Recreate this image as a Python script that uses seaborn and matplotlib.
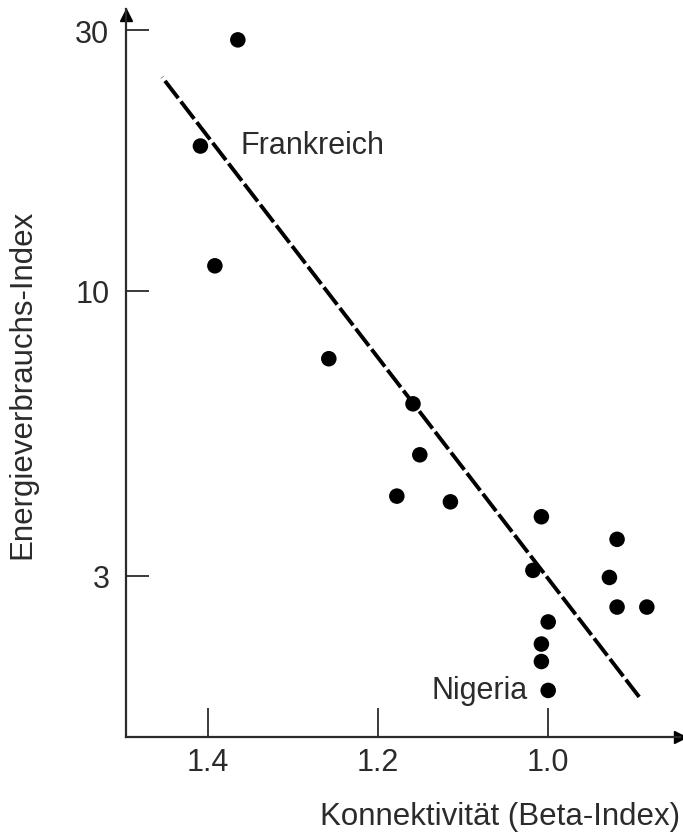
import matplotlib
matplotlib.use("Agg")
import matplotlib.pyplot as plt
import seaborn as sns
import pandas as pd

# Beta-Index (Konnektivität) vs. Energieverbrauchs-Index
beta = [1.365, 1.409, 1.392, 1.258, 1.159, 1.151, 1.178, 1.115, 1.008,
        1.018, 0.919, 0.928, 0.919, 0.884, 1.000, 1.008, 1.008, 1.000]
energy = [28.8, 18.4, 11.1, 7.5, 6.2, 5.0, 4.2, 4.1, 3.85,
          3.07, 3.5, 2.98, 2.63, 2.63, 2.47, 2.25, 2.09, 1.85]

# dashed regression line end points
trend_x = [1.454, 0.893]
trend_y = [24.6, 1.80]

y_ticks = [3, 10, 30]
y_ticklabels = ["3", "10", "30"]
x_ticks = [1.4, 1.2, 1.0]
x_ticklabels = ["1.4", "1.2", "1.0"]

df = pd.DataFrame({"beta": beta, "energy": energy})
trend = pd.DataFrame({"beta": trend_x, "energy": trend_y})

sns.set_style("white")
plt.rcParams["font.family"] = ["Liberation Sans", "DejaVu Sans"]
ink = "#2b2b2b"

fig = plt.figure(figsize=(6.83, 8.37), dpi=100)
ax = fig.add_axes([0.1845, 0.1183, 0.8111, 0.8697])

sns.lineplot(data=trend, x="beta", y="energy", ax=ax, color="black",
             linewidth=2.8, dashes=False, zorder=2)
ax.lines[0].set_dashes((5.6, 1.1))
sns.scatterplot(data=df, x="beta", y="energy", ax=ax, color="black",
                s=125, edgecolor="none", zorder=3)

ax.set_yscale("log")
ax.set_xlim(1.4965, 0.845)
ax.set_ylim(1.52, 32.8)
ax.minorticks_off()
ax.set_xticks(x_ticks)
ax.set_xticklabels(x_ticklabels)
ax.set_yticks(y_ticks)
ax.set_yticklabels(y_ticklabels)

for side in ["top", "right"]:
    ax.spines[side].set_visible(False)
for side in ["left", "bottom"]:
    ax.spines[side].set_color(ink)
    ax.spines[side].set_linewidth(1.6)

ax.tick_params(axis="x", bottom=True, direction="in", length=21, width=1.3,
               color=ink, labelsize=22, labelcolor=ink, pad=7)
ax.tick_params(axis="y", left=True, direction="in", length=16.5, width=1.3,
               color=ink, labelsize=22, labelcolor=ink, pad=12)

# arrow heads on the axes
ax.plot(1, 0, ">", transform=ax.transAxes, color="black", markersize=8,
        clip_on=False)
ax.plot(0, 0.992, "^", transform=ax.transAxes, color="black", markersize=8,
        clip_on=False)

ax.set_xlabel("Konnektivität (Beta-Index)", fontsize=22.5, color=ink)
ax.xaxis.set_label_coords(1.0, -0.1085)
ax.xaxis.label.set_ha("right")
ax.xaxis.label.set_va("center")
ax.set_ylabel("Energieverbrauchs-Index", fontsize=22.5, color=ink)
ax.yaxis.set_label_coords(-0.1877, 0.486)
ax.yaxis.label.set_va("center")

ax.annotate("Frankreich", xy=(beta[1], energy[1]), xytext=(29, 1),
            textcoords="offset points", ha="left", va="center",
            fontsize=22, color=ink)
ax.annotate("Nigeria", xy=(beta[17], energy[17]), xytext=(-15, 0),
            textcoords="offset points", ha="right", va="center",
            fontsize=22, color=ink)

fig.savefig("out.png", dpi=100)
